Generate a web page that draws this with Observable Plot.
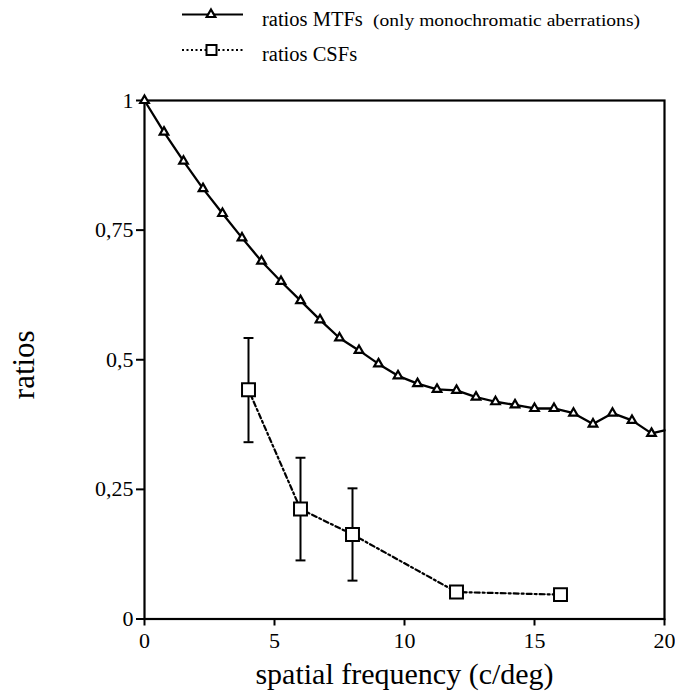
<!DOCTYPE html>
<html><head><meta charset="utf-8">
<script src="https://cdn.jsdelivr.net/npm/d3@7"></script>
<script src="https://cdn.jsdelivr.net/npm/@observablehq/plot@0.6"></script>
<style>
body{margin:0;background:#fff;}
#wrap{position:relative;width:675px;height:696px;font-family:"Liberation Serif",serif;}
#chart{position:absolute;left:0;top:0;}
#legend{position:absolute;left:0;top:0;}
</style></head>
<body><div id="wrap"><div id="chart"></div><svg id="legend" width="675" height="80"></svg></div>
<script>
// ---- data ----
const mtfX = [0, 0.75, 1.5, 2.25, 3, 3.75, 4.5, 5.25, 6, 6.75, 7.5, 8.25, 9, 9.75, 10.5, 11.25, 12, 12.75, 13.5, 14.25, 15, 15.75, 16.5, 17.25, 18, 18.75, 19.5, 20];
const mtfY = [1.0, 0.939, 0.883, 0.830, 0.782, 0.735, 0.690, 0.651, 0.614, 0.577, 0.542, 0.518, 0.492, 0.469, 0.454, 0.443, 0.441, 0.428, 0.419, 0.413, 0.406, 0.406, 0.397, 0.376, 0.397, 0.383, 0.358, 0.364];
const mtfMarkerMaxX = 19.5;
const csfX = [4, 6, 8, 12, 16];
const csfY = [0.442, 0.212, 0.163, 0.052, 0.047];
const csfLo = [0.341, 0.113, 0.074, null, null];
const csfHi = [0.542, 0.311, 0.252, null, null];
const xTicks = [0, 5, 10, 15, 20];
const yTicks = [0, 0.25, 0.5, 0.75, 1];
const xLabel = "spatial frequency (c/deg)";
const yLabel = "ratios";
const legendMain1 = "ratios MTFs";
const legendSub1 = "(only monochromatic aberrations)";
const legendMain2 = "ratios CSFs";

// ---- build ----
const mtf = mtfX.map((x, i) => ({x, y: mtfY[i]}));
const csf = csfX.map((x, i) => ({x, y: csfY[i], lo: csfLo[i], hi: csfHi[i]}));
const bars = csf.filter(d => d.lo != null);
const cap = {draw(ctx, size) { const w = Math.sqrt(size) / 2; ctx.moveTo(-w, 0); ctx.lineTo(w, 0); }};
const fmt = d => String(d).replace(".", ",");

const chart = Plot.plot({
  width: 675, height: 696,
  marginTop: 100, marginBottom: 77.5, marginLeft: 144, marginRight: 11,
  style: {fontFamily: "Liberation Serif", background: "white", color: "black"},
  x: {domain: [0, 20]},
  y: {domain: [0, 1]},
  marks: [
    Plot.frame({stroke: "black", strokeWidth: 2.2}),
    Plot.axisY(yTicks, {tickSize: 8, tickPadding: 3, fontSize: 22, tickFormat: fmt, strokeWidth: 2, label: null}),
    Plot.axisX(xTicks, {tickSize: 7, tickPadding: 6, fontSize: 22, strokeWidth: 2, label: null}),
    Plot.text([xLabel], {text: d => d, frameAnchor: "bottom", lineAnchor: "middle", textAnchor: "middle", dy: 55, fontSize: 30}),
    Plot.text([yLabel], {text: d => d, frameAnchor: "left", lineAnchor: "middle", textAnchor: "middle", rotate: -90, dx: -120, dy: 5, fontSize: 31}),
    Plot.ruleX(bars, {x: "x", y1: "lo", y2: "hi", stroke: "black", strokeWidth: 2}),
    Plot.dot(bars, {x: "x", y: "lo", symbol: cap, r: 5.6, stroke: "black", strokeWidth: 2}),
    Plot.dot(bars, {x: "x", y: "hi", symbol: cap, r: 5.6, stroke: "black", strokeWidth: 2}),
    Plot.line(csf, {x: "x", y: "y", stroke: "black", strokeWidth: 2.2, strokeDasharray: "5,3,2,3"}),
    Plot.dot(csf, {x: "x", y: "y", symbol: "square", r: 7.3, fill: "white", stroke: "black", strokeWidth: 2}),
    Plot.line(mtf, {x: "x", y: "y", stroke: "black", strokeWidth: 2.3}),
    Plot.dot(mtf.filter(d => d.x <= mtfMarkerMaxX), {x: "x", y: "y", symbol: "triangle", r: 3.2, fill: "white", stroke: "black", strokeWidth: 2.2})
  ]
});
document.getElementById("chart").appendChild(chart);

// ---- legend ----
const lg = d3.select("#legend").style("font-family", "Liberation Serif");
lg.append("line").attr("x1", 182).attr("x2", 243).attr("y1", 14.5).attr("y2", 14.5).attr("stroke", "black").attr("stroke-width", 2.2);
lg.append("path").attr("d", d3.symbol(d3.symbolTriangle, Math.PI * 3.2 * 3.2)()).attr("transform", "translate(211,14.5)").attr("fill", "white").attr("stroke", "black").attr("stroke-width", 2.2);
lg.append("text").attr("x", 262).attr("y", 26).attr("font-size", 20.5).text(legendMain1);
lg.append("text").attr("x", 373).attr("y", 26).attr("font-size", 16).attr("textLength", 267).attr("lengthAdjust", "spacingAndGlyphs").text(legendSub1);
lg.append("line").attr("x1", 182).attr("x2", 243).attr("y1", 50).attr("y2", 50).attr("stroke", "black").attr("stroke-width", 2).attr("stroke-dasharray", "2,2.5");
lg.append("rect").attr("x", 206.5).attr("y", 45).attr("width", 10).attr("height", 10).attr("fill", "white").attr("stroke", "black").attr("stroke-width", 2);
lg.append("text").attr("x", 262).attr("y", 61).attr("font-size", 20.5).text(legendMain2);
</script>
</body></html>
